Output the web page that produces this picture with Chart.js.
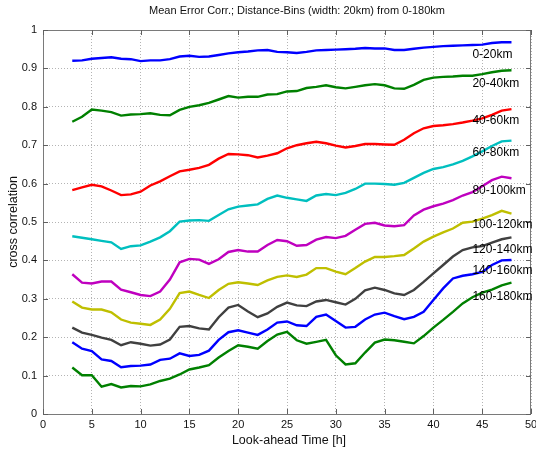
<!DOCTYPE html>
<html>
<head>
<meta charset="utf-8">
<script src="https://cdn.jsdelivr.net/npm/chart.js@4/dist/chart.umd.min.js"></script>
<style>
  html, body { margin: 0; padding: 0; background: #fff; }
  #wrap { width: 536px; height: 452px; }
</style>
</head>
<body>
<div id="wrap"><canvas id="c" width="536" height="452"></canvas></div>
<script>
// Look-ahead time in hours
const hours = [3, 4, 5, 6, 7, 8, 9, 10, 11, 12, 13, 14, 15, 16, 17, 18, 19, 20, 21, 22, 23, 24, 25,
               26, 27, 28, 29, 30, 31, 32, 33, 34, 35, 36, 37, 38, 39, 40, 41, 42, 43, 44, 45, 46, 47, 48];

// Mean error cross correlation per distance bin
const bin0_20 = [0.920, 0.921, 0.925, 0.927, 0.929, 0.925, 0.924, 0.919, 0.921, 0.921, 0.924, 0.931, 0.933, 0.930, 0.931, 0.935, 0.939, 0.942, 0.944, 0.947, 0.948, 0.943, 0.942,
                 0.940, 0.943, 0.947, 0.948, 0.949, 0.950, 0.951, 0.953, 0.952, 0.952, 0.948, 0.948, 0.951, 0.954, 0.956, 0.958, 0.959, 0.960, 0.961, 0.962, 0.966, 0.968, 0.968];
const bin20_40 = [0.761, 0.774, 0.793, 0.790, 0.786, 0.777, 0.780, 0.781, 0.783, 0.779, 0.778, 0.792, 0.800, 0.804, 0.810, 0.819, 0.828, 0.824, 0.826, 0.826, 0.832, 0.833, 0.840,
                  0.841, 0.849, 0.852, 0.856, 0.851, 0.848, 0.852, 0.856, 0.859, 0.856, 0.848, 0.847, 0.857, 0.870, 0.876, 0.878, 0.879, 0.881, 0.881, 0.885, 0.890, 0.894, 0.895];
const bin40_60 = [0.583, 0.590, 0.597, 0.593, 0.582, 0.570, 0.572, 0.579, 0.595, 0.606, 0.619, 0.632, 0.636, 0.641, 0.649, 0.665, 0.677, 0.676, 0.674, 0.668, 0.673, 0.679, 0.692,
                  0.700, 0.705, 0.709, 0.705, 0.699, 0.694, 0.698, 0.703, 0.703, 0.702, 0.701, 0.714, 0.731, 0.744, 0.750, 0.752, 0.755, 0.759, 0.764, 0.770, 0.779, 0.790, 0.794];
const bin60_80 = [0.463, 0.459, 0.455, 0.451, 0.447, 0.430, 0.437, 0.439, 0.449, 0.460, 0.476, 0.501, 0.504, 0.505, 0.503, 0.518, 0.533, 0.540, 0.543, 0.546, 0.560, 0.569, 0.563,
                  0.559, 0.555, 0.569, 0.573, 0.570, 0.576, 0.586, 0.600, 0.600, 0.599, 0.597, 0.602, 0.615, 0.628, 0.638, 0.643, 0.650, 0.659, 0.671, 0.684, 0.698, 0.710, 0.712];
const bin80_100 = [0.364, 0.342, 0.340, 0.345, 0.345, 0.324, 0.317, 0.310, 0.307, 0.319, 0.350, 0.395, 0.404, 0.402, 0.391, 0.403, 0.422, 0.427, 0.423, 0.423, 0.440, 0.453, 0.450,
                   0.438, 0.440, 0.454, 0.461, 0.458, 0.464, 0.480, 0.495, 0.498, 0.491, 0.489, 0.492, 0.517, 0.532, 0.541, 0.548, 0.557, 0.569, 0.578, 0.593, 0.609, 0.618, 0.614];
const bin100_120 = [0.293, 0.277, 0.272, 0.272, 0.265, 0.246, 0.238, 0.235, 0.232, 0.246, 0.274, 0.315, 0.319, 0.310, 0.302, 0.323, 0.339, 0.343, 0.340, 0.336, 0.348, 0.357, 0.361,
                    0.357, 0.363, 0.380, 0.380, 0.371, 0.364, 0.380, 0.397, 0.409, 0.409, 0.411, 0.414, 0.431, 0.449, 0.462, 0.473, 0.483, 0.498, 0.501, 0.509, 0.518, 0.529, 0.522];
const bin120_140 = [0.225, 0.212, 0.206, 0.199, 0.193, 0.179, 0.187, 0.183, 0.178, 0.181, 0.194, 0.227, 0.229, 0.223, 0.220, 0.252, 0.277, 0.284, 0.267, 0.252, 0.262, 0.279, 0.290,
                    0.283, 0.281, 0.293, 0.297, 0.291, 0.285, 0.300, 0.322, 0.329, 0.323, 0.314, 0.310, 0.323, 0.344, 0.366, 0.388, 0.410, 0.427, 0.434, 0.437, 0.446, 0.455, 0.460];
const bin140_160 = [0.187, 0.170, 0.164, 0.142, 0.138, 0.122, 0.125, 0.126, 0.129, 0.141, 0.144, 0.158, 0.151, 0.154, 0.165, 0.193, 0.213, 0.218, 0.212, 0.206, 0.220, 0.238, 0.241,
                    0.231, 0.229, 0.253, 0.259, 0.242, 0.225, 0.227, 0.246, 0.259, 0.264, 0.255, 0.247, 0.253, 0.266, 0.297, 0.327, 0.353, 0.360, 0.364, 0.370, 0.388, 0.400, 0.401];
const bin160_180 = [0.121, 0.101, 0.101, 0.071, 0.078, 0.069, 0.073, 0.072, 0.077, 0.086, 0.092, 0.103, 0.116, 0.121, 0.127, 0.147, 0.164, 0.179, 0.175, 0.170, 0.190, 0.207, 0.214,
                    0.192, 0.183, 0.188, 0.193, 0.153, 0.129, 0.132, 0.160, 0.186, 0.194, 0.192, 0.188, 0.184, 0.203, 0.225, 0.245, 0.266, 0.288, 0.304, 0.316, 0.324, 0.335, 0.342];

const binNames = ['0-20km', '20-40km', '40-60km', '60-80km', '80-100km', '100-120km', '120-140km', '140-160km', '160-180km'];
const binSeries = [bin0_20, bin20_40, bin40_60, bin60_80, bin80_100, bin100_120, bin120_140, bin140_160, bin160_180];
// Where each bin name is written (hour, correlation)
const labelHour = 44;
const labelCorr = [0.936, 0.859, 0.763, 0.680, 0.581, 0.492, 0.427, 0.372, 0.306];

const xTicks = [0, 5, 10, 15, 20, 25, 30, 35, 40, 45, 50];
const yTicks = [0, 0.1, 0.2, 0.3, 0.4, 0.5, 0.6, 0.7, 0.8, 0.9, 1];

const lineColors = ['#0000ff', '#008000', '#ff0000', '#00bfbf', '#bf00bf', '#bfbf00', '#404040', '#0000ff', '#008000'];
const FONT = '"Liberation Sans", Arial, Helvetica, sans-serif';

const datasets = binSeries.map((vals, i) => ({
  label: binNames[i],
  data: hours.map((h, k) => ({ x: h, y: vals[k] })),
  borderColor: lineColors[i],
  backgroundColor: lineColors[i],
  borderWidth: 2.4,
  pointRadius: 0,
  tension: 0,
  fill: false,
  order: binSeries.length - i
}));

// Title, axis names, inward ticks, frame and bin names
const decorations = {
  id: 'decorations',
  afterDatasetsDraw(chart) {
    const { ctx, chartArea: a, scales: { x, y } } = chart;
    ctx.save();
    // frame
    ctx.strokeStyle = '#7a7a7a';
    ctx.lineWidth = 1;
    ctx.setLineDash([]);
    ctx.strokeRect(Math.round(a.left) + 0.5, Math.round(a.top) + 0.5,
                   Math.round(a.right - a.left) - 1, Math.round(a.bottom - a.top));
    // inward tick marks on all four sides
    ctx.strokeStyle = '#606060';
    ctx.beginPath();
    xTicks.forEach(t => {
      const px = Math.round(x.getPixelForValue(t)) + 0.5;
      ctx.moveTo(px, a.bottom); ctx.lineTo(px, a.bottom - 5);
      ctx.moveTo(px, a.top); ctx.lineTo(px, a.top + 5);
    });
    yTicks.forEach(t => {
      const py = Math.round(y.getPixelForValue(t)) + 0.5;
      ctx.moveTo(a.left, py); ctx.lineTo(a.left + 5, py);
      ctx.moveTo(a.right, py); ctx.lineTo(a.right - 5, py);
    });
    ctx.stroke();

    // bin names next to the line ends
    ctx.fillStyle = '#000';
    ctx.font = '12px ' + FONT;
    ctx.textAlign = 'left';
    ctx.textBaseline = 'middle';
    binNames.forEach((n, i) => {
      ctx.fillText(n, x.getPixelForValue(labelHour), y.getPixelForValue(labelCorr[i]));
    });

    // title
    ctx.fillStyle = '#111';
    ctx.font = '11px ' + FONT;
    ctx.textAlign = 'center';
    ctx.fillText('Mean Error Corr.; Distance-Bins (width: 20km) from 0-180km', 297, 11);
    // axis names
    ctx.font = '12.5px ' + FONT;
    ctx.fillText('Look-ahead Time [h]', 289, 441);
    ctx.translate(14, (a.top + a.bottom) / 2);
    ctx.rotate(-Math.PI / 2);
    ctx.fillText('cross correlation', 0, 0);
    ctx.restore();
  }
};

new Chart(document.getElementById('c'), {
  type: 'line',
  data: { datasets },
  options: {
    responsive: false,
    devicePixelRatio: 1,
    animation: false,
    events: [],
    layout: { padding: { left: 0, top: 30, right: 5, bottom: 0 } },
    plugins: { legend: { display: false }, title: { display: false }, tooltip: { enabled: false } },
    scales: {
      x: {
        type: 'linear',
        min: 0, max: 50,
        afterBuildTicks: s => { s.ticks = xTicks.map(v => ({ value: v })); },
        afterFit: s => { s.height = 38; s.paddingLeft = 0; s.paddingRight = 0; },
        ticks: { color: '#111', font: { family: FONT, size: 11 }, padding: 4, maxRotation: 0, autoSkip: false },
        grid: { color: '#b4b4b4', drawTicks: false, lineWidth: 1 },
        border: { display: false, dash: [1, 2] }
      },
      y: {
        type: 'linear',
        min: 0, max: 1,
        afterBuildTicks: s => { s.ticks = yTicks.map(v => ({ value: v })); },
        afterFit: s => { s.width = 43; s.paddingTop = 0; s.paddingBottom = 0; },
        ticks: { color: '#111', font: { family: FONT, size: 11 }, padding: 6, autoSkip: false,
                 callback: v => String(Math.round(v * 10) / 10) },
        grid: { color: '#b4b4b4', drawTicks: false, lineWidth: 1 },
        border: { display: false, dash: [1, 2] }
      }
    }
  },
  plugins: [decorations]
});
</script>
</body>
</html>
